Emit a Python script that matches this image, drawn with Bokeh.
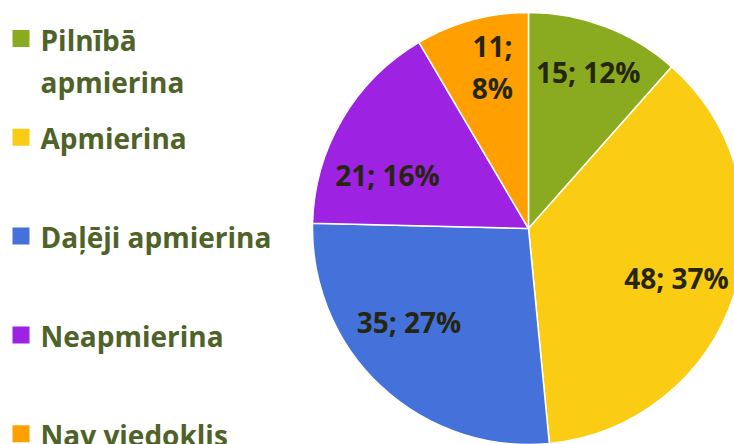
import math
from bokeh.plotting import figure
from bokeh.models import Range1d, ColumnDataSource
from bokeh.core.properties import value
from bokeh.embed import file_html
from bokeh.resources import INLINE

# ---- data ----
categories = ["Pilnībā\napmierina", "Apmierina", "Daļēji apmierina", "Neapmierina", "Nav viedoklis"]
counts = [15, 48, 35, 21, 11]
colors = ["#8AAB1F", "#FACD14", "#4472DA", "#9D22E1", "#FFA000"]

# ---- layout ----
W, H = 734, 444
CX, CY, R = 528, 216, 216
label_r = [0.78, 0.72, 0.70, 0.70, 0.77]
label_shift = [0.0, 0.0, 9.3, -9.3, 2.7]
label_wrap = [False, False, False, False, True]
FONT = value("Open Sans")
LABEL_COLOR = "#262610"
LEGEND_COLOR = "#4F6228"
BASE_OFF = -1  # baseline offset relative to visual centre

total = sum(counts)
pcts = [round(c / total * 100) for c in counts]

cum = [0]
for c in counts:
    cum.append(cum[-1] + c)
starts = [math.pi / 2 - 2 * math.pi * cum[i + 1] / total for i in range(len(counts))]
ends = [math.pi / 2 - 2 * math.pi * cum[i] / total for i in range(len(counts))]

p = figure(width=W, height=H, x_range=Range1d(0, W), y_range=Range1d(0, H),
           output_backend="svg", toolbar_location=None, min_border=0)
p.axis.visible = False
p.grid.visible = False
p.outline_line_color = None
p.background_fill_color = "white"

src = ColumnDataSource(dict(start=starts, end=ends, color=colors))
p.wedge(x=CX, y=CY, radius=R, start_angle="start", end_angle="end",
        fill_color="color", line_color="white", line_width=1.5, source=src)

# slice labels
lx, ly, lt = [], [], []
LINE = 42
for i, c in enumerate(counts):
    mid = (cum[i] + c / 2) / total * 360 + label_shift[i]
    a = math.radians(mid)
    x = CX + R * label_r[i] * math.sin(a)
    y = CY + R * label_r[i] * math.cos(a)
    lines = [f"{c};", f"{pcts[i]}%"] if label_wrap[i] else [f"{c}; {pcts[i]}%"]
    n = len(lines)
    for k, t in enumerate(lines):
        yc = y + (n - 1) / 2 * LINE - k * LINE
        lx.append(x)
        ly.append(yc + BASE_OFF)
        lt.append(t)
p.text(x=lx, y=ly, text=lt, text_font=FONT, text_font_style="bold",
       text_font_size="28px", text_color=LABEL_COLOR, text_align="center",
       text_baseline="alphabetic")

# legend
leg_y0 = H - 38
leg_step = 98.8
mx, my, tx, ty, tt = [], [], [], [], []
for i, name in enumerate(categories):
    yc = leg_y0 - i * leg_step
    mx.append(20.5)
    my.append(yc)
    for k, line in enumerate(name.split("\n")):
        tx.append(40)
        ty.append(yc + BASE_OFF - k * 42)
        tt.append(line)
p.rect(x=mx, y=my, width=17, height=17, fill_color=colors, line_color=None)
p.text(x=tx, y=ty, text=tt, text_font=FONT, text_font_style="bold",
       text_font_size="28px", text_color=LEGEND_COLOR, text_align="left",
       text_baseline="alphabetic")

open("out.html", "w").write(file_html(p, INLINE))
